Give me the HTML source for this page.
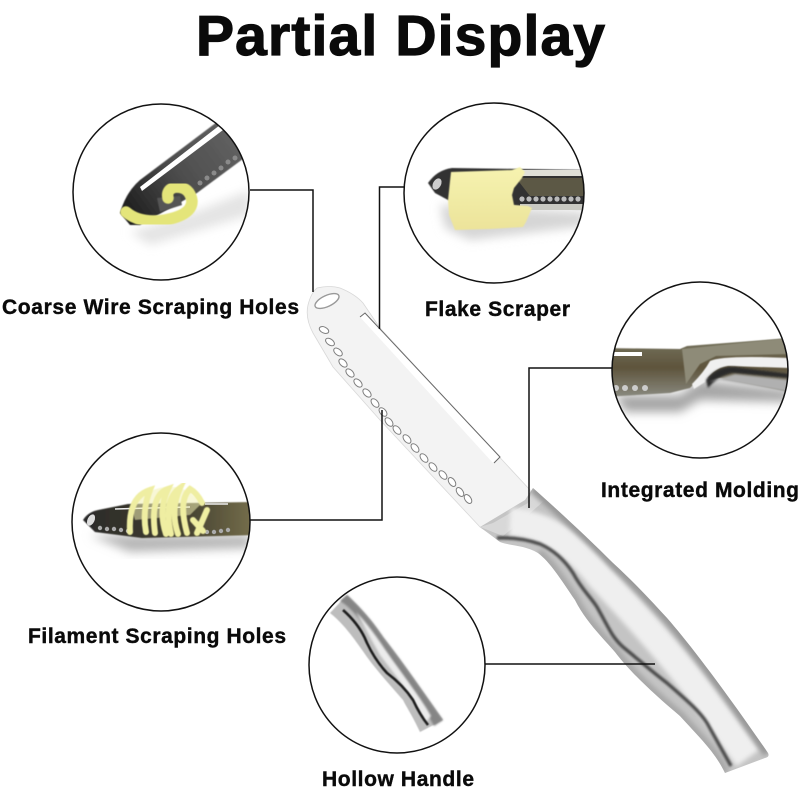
<!DOCTYPE html>
<html><head><meta charset="utf-8"><style>html,body{margin:0;padding:0;background:#fff}svg{display:block}text{font-family:"Liberation Sans",sans-serif;font-weight:700;fill:#0a0a0a;stroke:#0a0a0a}</style></head><body>
<svg width="800" height="800" viewBox="0 0 800 800" xmlns="http://www.w3.org/2000/svg">
<defs>
<filter id="s" x="-10%" y="-10%" width="120%" height="120%"><feGaussianBlur stdDeviation=".6"/></filter>
<filter id="b1" x="-20%" y="-20%" width="140%" height="140%"><feGaussianBlur stdDeviation="1"/></filter>
<filter id="b2" x="-30%" y="-30%" width="160%" height="160%"><feGaussianBlur stdDeviation="2.5"/></filter>
<filter id="b4" x="-40%" y="-40%" width="180%" height="180%"><feGaussianBlur stdDeviation="5"/></filter>
<clipPath id="c1"><circle cx="161" cy="192" r="88"/></clipPath>
<clipPath id="c2"><circle cx="494" cy="193" r="90"/></clipPath>
<clipPath id="c3"><circle cx="700" cy="370" r="88"/></clipPath>
<clipPath id="c4"><circle cx="161" cy="522" r="89"/></clipPath>
<clipPath id="c5"><circle cx="397" cy="665" r="88"/></clipPath>
<clipPath id="hc"><path d="M480 527L525 500L533 488C560 512 590 540 613 563C635 583 655 605 667 618C695 650 735 705 768 753Q770 757 765 758L725 773C715 752 700 738 680 716C655 695 630 672 615 652C600 635 585 620 575 600C560 578 550 562 538 553C525 545 510 546 500 542Z"/></clipPath>
<linearGradient id="b3g" x1="0" y1="0" x2="0" y2="1"><stop offset="0" stop-color="#777560"/><stop offset=".5" stop-color="#5e543c"/><stop offset="1" stop-color="#8a8a80"/></linearGradient>
<linearGradient id="dk1" gradientUnits="userSpaceOnUse" x1="125" y1="215" x2="250" y2="125"><stop offset="0" stop-color="#1c1c1c"/><stop offset=".45" stop-color="#4e4e4e"/><stop offset="1" stop-color="#666"/></linearGradient>
<linearGradient id="dk4" x1="0" y1="0" x2="1" y2="0"><stop offset="0" stop-color="#2a2a2a"/><stop offset=".6" stop-color="#444030"/><stop offset="1" stop-color="#77704c"/></linearGradient>
<linearGradient id="bt" x1="0" y1="0" x2="0" y2="1"><stop offset="0" stop-color="#f6f3b0"/><stop offset="1" stop-color="#ece39a"/></linearGradient>
</defs>
<rect width="800" height="800" fill="#fff"/>

<!-- knife blade -->
<path d="M317 288Q330 285 340 288Q355 294 363 303L380 328L530 490L533 505L495 537L480 527L380 420L333 367L313 333Q305 318 308 305Q311 293 317 288Z" fill="#f3f3f3" stroke="#d8d8d8" stroke-width=".8"/>
<path d="M360 317L365 313L500 457L493 463Z" fill="#fff"/>
<path d="M360 317L365 313L500 457L494 463" fill="none" stroke="#666" stroke-width="1"/>
<ellipse cx="327" cy="301" rx="13" ry="5.500" transform="rotate(-25 327 301)" fill="#fff" stroke="#999" stroke-width="1.400"/>
<g fill="#fff" stroke="#808080" stroke-width="1">
<ellipse cx="324" cy="330" rx="5" ry="3" transform="rotate(25 324 330)"/><ellipse cx="330" cy="342" rx="5" ry="3" transform="rotate(35 330 342)"/><ellipse cx="338" cy="352" rx="5" ry="3" transform="rotate(40 338 352)"/><ellipse cx="343" cy="363" rx="5" ry="3" transform="rotate(45 343 363)"/><ellipse cx="350" cy="373" rx="5" ry="3" transform="rotate(45 350 373)"/><ellipse cx="358" cy="383" rx="5" ry="3" transform="rotate(45 358 383)"/><ellipse cx="367" cy="393" rx="5" ry="3" transform="rotate(45 367 393)"/><ellipse cx="375" cy="403" rx="5" ry="3" transform="rotate(50 375 403)"/><ellipse cx="383" cy="412" rx="5" ry="3" transform="rotate(50 383 412)"/><ellipse cx="389" cy="422" rx="5" ry="3" transform="rotate(50 389 422)"/><ellipse cx="397" cy="430" rx="5" ry="3" transform="rotate(50 397 430)"/><ellipse cx="407" cy="439" rx="5" ry="3" transform="rotate(50 407 439)"/><ellipse cx="415" cy="448" rx="5" ry="3" transform="rotate(50 415 448)"/><ellipse cx="424" cy="458" rx="5" ry="3" transform="rotate(50 424 458)"/><ellipse cx="433" cy="467" rx="5" ry="3" transform="rotate(50 433 467)"/><ellipse cx="443" cy="475" rx="5" ry="3" transform="rotate(50 443 475)"/><ellipse cx="452" cy="482" rx="5" ry="3" transform="rotate(55 452 482)"/><ellipse cx="460" cy="492" rx="5" ry="3" transform="rotate(55 460 492)"/><ellipse cx="468" cy="499" rx="5" ry="3" transform="rotate(55 468 499)"/>
</g>

<!-- handle -->
<path d="M480 527L525 500L533 488C560 512 590 540 613 563C635 583 655 605 667 618C695 650 735 705 768 753Q770 757 765 758L725 773C715 752 700 738 680 716C655 695 630 672 615 652C600 635 585 620 575 600C560 578 550 562 538 553C525 545 510 546 500 542Z" fill="#c4c4c4"/>
<g clip-path="url(#hc)">
<path d="M480 527L493 523L528 503L533 488L545 500L520 522L503 536Z" fill="#d8d8d8"/>
<path d="M510 522Q560 525 600 577Q660 640 700 692L748 758" fill="none" stroke="#efefef" stroke-width="28" filter="url(#b2)"/>
<path d="M533 488C560 512 590 540 613 563C635 583 655 605 667 618C695 650 735 705 768 753" fill="none" stroke="#999" stroke-width="10" filter="url(#b2)"/>
<path d="M538 553C550 562 560 578 575 600C585 620 600 635 615 652C630 672 655 695 680 716C700 738 715 752 725 773" fill="none" stroke="#a8a8a8" stroke-width="10" filter="url(#b2)"/>
<path d="M497 538Q520 537 540 544Q560 553 573 573C582 590 590 596 597 607C610 630 612 637 623 647C645 665 650 670 667 683C690 703 700 712 707 723L731 766" fill="none" stroke="#4a4a4a" stroke-width="3.400" filter="url(#b1)"/>
</g>

<!-- circle 1 -->
<g clip-path="url(#c1)">
<path d="M130 232L200 210L250 190V215L150 245Z" fill="#e4e4e4" filter="url(#b4)"/>
<path d="M120 213Q126 192 140 180L217 122L240 113L255 150L197 193L140 225L130 225Z" fill="url(#dk1)" filter="url(#s)"/>
<path d="M140 187L220 125L223 130L142 191Z" fill="#fff"/>
<g fill="#8a8a8a"><circle cx="200" cy="183" r="2.500"/><circle cx="207" cy="178" r="2.500"/><circle cx="214" cy="173" r="2.500"/><circle cx="221" cy="168" r="2.500"/><circle cx="228" cy="162" r="2.500"/><circle cx="235" cy="158" r="2.500"/><circle cx="242" cy="153" r="2.500"/></g>
<path d="M157 198L180 196L182 205L160 212Z" fill="#555" filter="url(#s)"/>
<path d="M126 212Q140 224 165 220Q192 215 192 201Q190 187 176 187Q166 189 168 198" fill="none" stroke="#e4e57a" stroke-width="11.500" stroke-linecap="round" filter="url(#s)"/>
</g>
<!-- circle 2 -->
<g clip-path="url(#c2)">
<path d="M440 205L585 212V226L470 240L445 228Z" fill="#d5d5d5" filter="url(#b4)"/>
<path d="M428 183Q437 170 452 168L590 170V210L528 207L448 200L435 193Z" fill="#333" filter="url(#s)"/>
<path d="M515 170H590V176H515Z" fill="#e0e0d8"/>
<path d="M516 178H590V196H530Z" fill="#5c5845"/>
<path d="M520 204H590V210H520Z" fill="#c9c9c2"/>
<ellipse cx="437" cy="184" rx="4" ry="6" transform="rotate(30 437 184)" fill="#ccc"/>
<g fill="#bbb"><circle cx="522" cy="199" r="2.600"/><circle cx="529" cy="199" r="2.600"/><circle cx="536" cy="199" r="2.600"/><circle cx="543" cy="199" r="2.600"/><circle cx="550" cy="199" r="2.600"/><circle cx="557" cy="199" r="2.600"/><circle cx="564" cy="199" r="2.600"/><circle cx="571" cy="199" r="2.600"/><circle cx="578" cy="199" r="2.600"/></g>
<path d="M451 172L512 170L520 167L525 172L522 178L514 188L512 195L514 205L528 206L532 208L526 222L523 227L490 229L455 230L449 215L448 200Z" fill="url(#bt)" filter="url(#s)"/>
</g>
<!-- circle 3 -->
<g clip-path="url(#c3)">
<path d="M615 395L680 395L700 380L790 390V402L700 400L680 412L625 412Z" fill="#a5a5a5" filter="url(#b4)"/>
<path d="M605 348L680 349L687 346L790 338V392L720 378L700 378L690 388L670 393L605 397Z" fill="url(#b3g)" filter="url(#s)"/>
<path d="M613 352H642V356H613Z" fill="#fff"/>
<g fill="#ccc"><circle cx="616" cy="388" r="3"/><circle cx="625" cy="388" r="3"/><circle cx="635" cy="388" r="3"/><circle cx="645" cy="388" r="3"/></g>
<path d="M682 349L790 338V354L716 356L700 364L686 384Z" fill="#8e8b78" filter="url(#s)"/>
<path d="M692 384Q704 372 710 361Q722 355 790 358V368L728 366Q714 368 705 382L694 389Z" fill="#f0f0f0" filter="url(#s)"/>
<path d="M706 380Q716 366 735 367L790 374V378L732 373Q718 376 708 388Z" fill="#2c2c2c" filter="url(#b1)"/>
<path d="M708 382L735 374L790 380V392L720 380Z" fill="#b0b0b0" filter="url(#b1)"/>
</g>
<!-- circle 4 -->
<g clip-path="url(#c4)">
<path d="M90 535L250 535V548L130 552Z" fill="#b5b5b5" filter="url(#b4)"/>
<path d="M83 520Q88 512 98 510L128 504L255 502V535L142 538L95 532Z" fill="url(#dk4)" filter="url(#s)"/>
<ellipse cx="91" cy="520" rx="3.500" ry="6" transform="rotate(25 91 520)" fill="#ddd"/>
<path d="M115 509L190 507" stroke="#eee" stroke-width="1.500"/><path d="M205 504L228 504" stroke="#eee" stroke-width="1.500"/>
<g fill="#aaa"><circle cx="100" cy="528" r="2.200"/><circle cx="107" cy="529" r="2.200"/><circle cx="114" cy="529" r="2.200"/><circle cx="121" cy="530" r="2.200"/><circle cx="128" cy="531" r="2.200"/><circle cx="207" cy="532" r="2.200"/><circle cx="214" cy="532" r="2.200"/><circle cx="221" cy="531" r="2.200"/><circle cx="228" cy="530" r="2.200"/></g>
<path d="M132 510Q142 490 165 487Q190 485 200 505L190 515L135 520Z" fill="#f3f1b4" opacity=".55" filter="url(#s)"/>
<g fill="none" stroke="#efeea2" stroke-width="6" stroke-linecap="round" filter="url(#s)">
<path d="M130 532Q128 497 150 490Q142 510 146 532"/><path d="M155 533Q150 495 168 489Q158 510 166 534"/><path d="M171 534Q163 500 180 488Q170 510 178 534"/><path d="M187 533Q178 500 190 489Q197 493 202 503"/><path d="M197 533L207 510"/><path d="M193 520L203 531"/>
</g>
</g>
<!-- circle 5 -->
<g clip-path="url(#c5)">
<path d="M347 595C365 612 375 625 383 637C405 665 425 695 443 720L420 732C412 715 407 708 403 700C390 685 378 672 367 657C355 640 345 625 330 613Z" fill="#bdbdbd" filter="url(#s)"/>
<path d="M347 595C365 612 375 625 383 637C405 665 425 695 443 720L434 726C415 690 395 662 375 640C362 622 352 608 340 601Z" fill="#858585" filter="url(#b1)"/>
<path d="M356 612C372 628 385 650 395 664C410 685 422 700 431 716L426 722C412 695 395 675 380 655Z" fill="#ececec" filter="url(#b1)"/>
<path d="M343 610Q360 625 367 643Q375 660 387 673Q403 685 413 700Q420 715 428 725" fill="none" stroke="#1e1e1e" stroke-width="2.600" filter="url(#s)"/>
</g>

<!-- circles -->
<g fill="none" stroke="#111" stroke-width="1.500">
<circle cx="161" cy="192" r="88"/><circle cx="494" cy="193" r="90"/><circle cx="700" cy="370" r="88"/><circle cx="161" cy="522" r="89"/><circle cx="397" cy="665" r="88"/>
<path d="M250 190H313V292"/><path d="M404 187H379.500V329"/><path d="M612 368H529V508"/><path d="M250 520H382V410"/><path d="M485 664H655"/>
</g>

<text x="196" y="55" font-size="57" stroke-width="1.200" textLength="409" lengthAdjust="spacing">Partial Display</text>
<g font-size="21" stroke-width=".4">
<text x="2" y="314" textLength="297" lengthAdjust="spacing">Coarse Wire Scraping Holes</text>
<text x="425" y="316" textLength="145" lengthAdjust="spacing">Flake Scraper</text>
<text x="601" y="497" textLength="198" lengthAdjust="spacing">Integrated Molding</text>
<text x="28" y="643" textLength="258" lengthAdjust="spacing">Filament Scraping Holes</text>
<text x="322" y="786" textLength="152" lengthAdjust="spacing">Hollow Handle</text>
</g>
</svg>
</body></html>
